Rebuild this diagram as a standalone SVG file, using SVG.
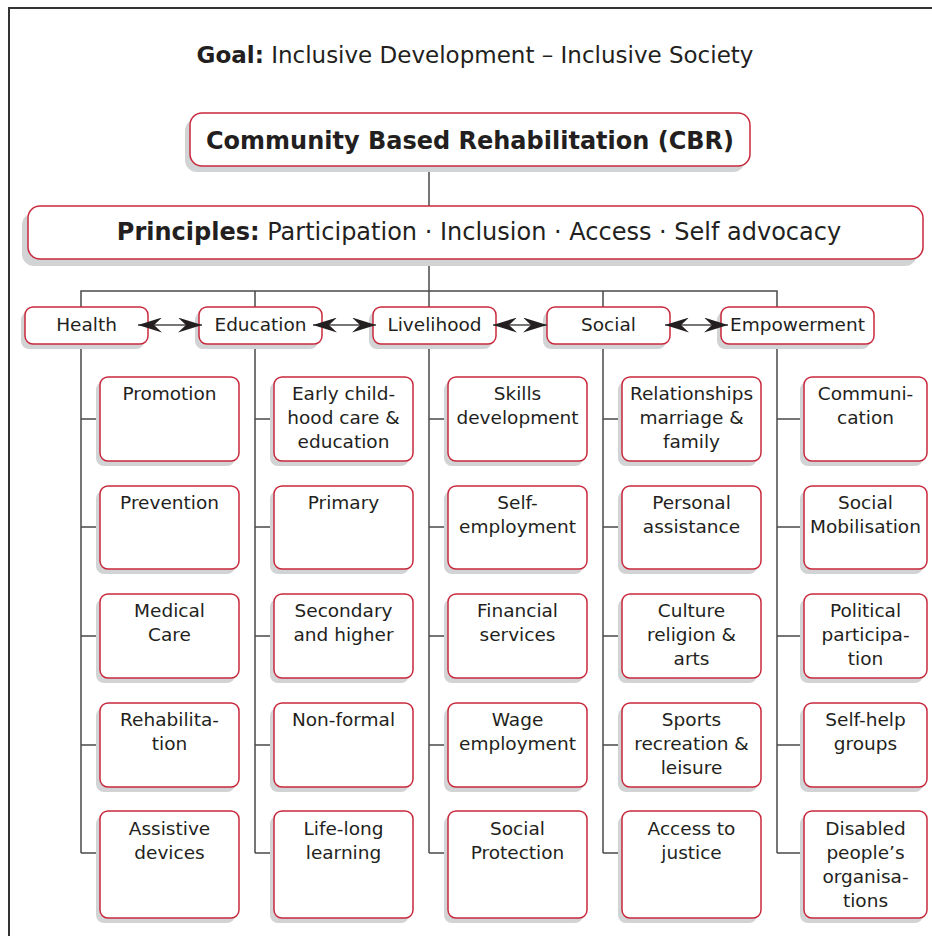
<svg xmlns="http://www.w3.org/2000/svg" width="932" height="936" viewBox="0 0 932 936">
<defs>
<style>
.frame{stroke:#333;stroke-width:2;fill:none}
.conn{stroke:#4a4a4a;stroke-width:1.5;fill:none}
.box{fill:#fff;stroke:#c8283c;stroke-width:1.5}
.shadow{fill:#d1d3d4}
text{font-family:"DejaVu Sans","Verdana",sans-serif;fill:#231f20}
.t18{font-size:18.5px;text-anchor:middle}
.t24{font-size:24px;text-anchor:middle}
.b{font-weight:bold}
</style>
<marker id="ah" viewBox="0 0 24 15" refX="24" refY="7.5" markerWidth="24" markerHeight="15" markerUnits="userSpaceOnUse" orient="auto-start-reverse">
<path d="M0,0 L24,7.5 L0,15 L8,7.5 z" fill="#231f20"/>
</marker>
</defs>
<rect width="932" height="936" fill="#fff"/>
<path class="frame" d="M9,936 V8 H932"/>

<g id="goal">
<text x="475" y="63" font-size="23" text-anchor="middle"><tspan class="b">Goal:</tspan> Inclusive Development – Inclusive Society</text>
</g>

<g id="connectors">
<path class="conn" d="M429,166 V206 M429,259 V307 M81,307 V291 H777 V307 M255,291 V307 M603,291 V307"/>
<path class="conn" d="M81,344 V853 M81,419 H100 M81,527 H100 M81,636 H100 M81,745 H100 M81,853 H100"/>
<path class="conn" d="M255,344 V853 M255,419 H274 M255,527 H274 M255,636 H274 M255,745 H274 M255,853 H274"/>
<path class="conn" d="M429,344 V853 M429,419 H448 M429,527 H448 M429,636 H448 M429,745 H448 M429,853 H448"/>
<path class="conn" d="M603,344 V853 M603,419 H622 M603,527 H622 M603,636 H622 M603,745 H622 M603,853 H622"/>
<path class="conn" d="M777,344 V853 M777,419 H804 M777,527 H804 M777,636 H804 M777,745 H804 M777,853 H804"/>
</g>

<g id="cbr">
<rect class="shadow" x="185" y="119" width="560" height="53" rx="12"/>
<rect class="box" x="190" y="113" width="560" height="53" rx="12"/>
<text class="t24 b" x="470" y="149">Community Based Rehabilitation (CBR)</text>
</g>
<g id="principles">
<rect class="shadow" x="22" y="213" width="895" height="53" rx="12"/>
<rect class="box" x="28" y="206" width="895" height="53" rx="12"/>
<text class="t24" x="479" y="240"><tspan class="b">Principles:</tspan> Participation · Inclusion · Access · Self advocacy</text>
</g>

<g id="health"><rect class="shadow" x="21" y="312" width="123" height="37" rx="8"/><rect class="box" x="25" y="307" width="123" height="37" rx="8"/><text class="t18" x="86.5" y="331">Health</text></g>
<g id="education"><rect class="shadow" x="195" y="312" width="123" height="37" rx="8"/><rect class="box" x="199" y="307" width="123" height="37" rx="8"/><text class="t18" x="260.5" y="331">Education</text></g>
<g id="livelihood"><rect class="shadow" x="369" y="312" width="123" height="37" rx="8"/><rect class="box" x="373" y="307" width="123" height="37" rx="8"/><text class="t18" x="434.5" y="331">Livelihood</text></g>
<g id="social"><rect class="shadow" x="543" y="312" width="123" height="37" rx="8"/><rect class="box" x="547" y="307" width="123" height="37" rx="8"/><text class="t18" x="608.5" y="331">Social</text></g>
<g id="empowerment"><rect class="shadow" x="717" y="312" width="153" height="37" rx="8"/><rect class="box" x="721" y="307" width="153" height="37" rx="8"/><text class="t18" x="797.5" y="331">Empowerment</text></g>

<g id="arrows">
<line class="conn" x1="138" y1="325" x2="202" y2="325" marker-start="url(#ah)" marker-end="url(#ah)" stroke-width="1"/>
<line class="conn" x1="313" y1="325" x2="376" y2="325" marker-start="url(#ah)" marker-end="url(#ah)" stroke-width="1"/>
<line class="conn" x1="493" y1="325" x2="547" y2="325" marker-start="url(#ah)" marker-end="url(#ah)" stroke-width="1"/>
<line class="conn" x1="665" y1="325" x2="728" y2="325" marker-start="url(#ah)" marker-end="url(#ah)" stroke-width="1"/>
</g>

<!-- Health column -->
<g id="promotion"><rect class="shadow" x="96" y="382" width="139" height="84" rx="8"/><rect class="box" x="100" y="377" width="139" height="84" rx="8"/><text class="t18" x="169.5" y="400">Promotion</text></g>
<g id="prevention"><rect class="shadow" x="96" y="491" width="139" height="83" rx="8"/><rect class="box" x="100" y="486" width="139" height="83" rx="8"/><text class="t18" x="169.5" y="509">Prevention</text></g>
<g id="medical-care"><rect class="shadow" x="96" y="599" width="139" height="84" rx="8"/><rect class="box" x="100" y="594" width="139" height="84" rx="8"/><text class="t18" x="169.5" y="617">Medical<tspan x="169.5" dy="24">Care</tspan></text></g>
<g id="rehabilitation"><rect class="shadow" x="96" y="708" width="139" height="84" rx="8"/><rect class="box" x="100" y="703" width="139" height="84" rx="8"/><text class="t18" x="169.5" y="726">Rehabilita-<tspan x="169.5" dy="24">tion</tspan></text></g>
<g id="assistive-devices"><rect class="shadow" x="96" y="816" width="139" height="107" rx="8"/><rect class="box" x="100" y="811" width="139" height="107" rx="8"/><text class="t18" x="169.5" y="835">Assistive<tspan x="169.5" dy="24">devices</tspan></text></g>

<!-- Education column -->
<g id="early-childhood"><rect class="shadow" x="270" y="382" width="139" height="84" rx="8"/><rect class="box" x="274" y="377" width="139" height="84" rx="8"/><text class="t18" x="343.5" y="400">Early child-<tspan x="343.5" dy="24">hood care &amp;</tspan><tspan x="343.5" dy="24">education</tspan></text></g>
<g id="primary"><rect class="shadow" x="270" y="491" width="139" height="83" rx="8"/><rect class="box" x="274" y="486" width="139" height="83" rx="8"/><text class="t18" x="343.5" y="509">Primary</text></g>
<g id="secondary"><rect class="shadow" x="270" y="599" width="139" height="84" rx="8"/><rect class="box" x="274" y="594" width="139" height="84" rx="8"/><text class="t18" x="343.5" y="617">Secondary<tspan x="343.5" dy="24">and higher</tspan></text></g>
<g id="non-formal"><rect class="shadow" x="270" y="708" width="139" height="84" rx="8"/><rect class="box" x="274" y="703" width="139" height="84" rx="8"/><text class="t18" x="343.5" y="726">Non-formal</text></g>
<g id="life-long"><rect class="shadow" x="270" y="816" width="139" height="107" rx="8"/><rect class="box" x="274" y="811" width="139" height="107" rx="8"/><text class="t18" x="343.5" y="835">Life-long<tspan x="343.5" dy="24">learning</tspan></text></g>

<!-- Livelihood column -->
<g id="skills"><rect class="shadow" x="444" y="382" width="139" height="84" rx="8"/><rect class="box" x="448" y="377" width="139" height="84" rx="8"/><text class="t18" x="517.5" y="400">Skills<tspan x="517.5" dy="24">development</tspan></text></g>
<g id="self-employment"><rect class="shadow" x="444" y="491" width="139" height="83" rx="8"/><rect class="box" x="448" y="486" width="139" height="83" rx="8"/><text class="t18" x="517.5" y="509">Self-<tspan x="517.5" dy="24">employment</tspan></text></g>
<g id="financial"><rect class="shadow" x="444" y="599" width="139" height="84" rx="8"/><rect class="box" x="448" y="594" width="139" height="84" rx="8"/><text class="t18" x="517.5" y="617">Financial<tspan x="517.5" dy="24">services</tspan></text></g>
<g id="wage"><rect class="shadow" x="444" y="708" width="139" height="84" rx="8"/><rect class="box" x="448" y="703" width="139" height="84" rx="8"/><text class="t18" x="517.5" y="726">Wage<tspan x="517.5" dy="24">employment</tspan></text></g>
<g id="social-protection"><rect class="shadow" x="444" y="816" width="139" height="107" rx="8"/><rect class="box" x="448" y="811" width="139" height="107" rx="8"/><text class="t18" x="517.5" y="835">Social<tspan x="517.5" dy="24">Protection</tspan></text></g>

<!-- Social column -->
<g id="relationships"><rect class="shadow" x="618" y="382" width="139" height="84" rx="8"/><rect class="box" x="622" y="377" width="139" height="84" rx="8"/><text class="t18" x="691.5" y="400">Relationships<tspan x="691.5" dy="24">marriage &amp;</tspan><tspan x="691.5" dy="24">family</tspan></text></g>
<g id="personal"><rect class="shadow" x="618" y="491" width="139" height="83" rx="8"/><rect class="box" x="622" y="486" width="139" height="83" rx="8"/><text class="t18" x="691.5" y="509">Personal<tspan x="691.5" dy="24">assistance</tspan></text></g>
<g id="culture"><rect class="shadow" x="618" y="599" width="139" height="84" rx="8"/><rect class="box" x="622" y="594" width="139" height="84" rx="8"/><text class="t18" x="691.5" y="617">Culture<tspan x="691.5" dy="24">religion &amp;</tspan><tspan x="691.5" dy="24">arts</tspan></text></g>
<g id="sports"><rect class="shadow" x="618" y="708" width="139" height="84" rx="8"/><rect class="box" x="622" y="703" width="139" height="84" rx="8"/><text class="t18" x="691.5" y="726">Sports<tspan x="691.5" dy="24">recreation &amp;</tspan><tspan x="691.5" dy="24">leisure</tspan></text></g>
<g id="justice"><rect class="shadow" x="618" y="816" width="139" height="107" rx="8"/><rect class="box" x="622" y="811" width="139" height="107" rx="8"/><text class="t18" x="691.5" y="835">Access to<tspan x="691.5" dy="24">justice</tspan></text></g>

<!-- Empowerment column -->
<g id="communication"><rect class="shadow" x="800" y="382" width="123" height="84" rx="8"/><rect class="box" x="804" y="377" width="123" height="84" rx="8"/><text class="t18" x="865.5" y="400">Communi-<tspan x="865.5" dy="24">cation</tspan></text></g>
<g id="mobilisation"><rect class="shadow" x="800" y="491" width="123" height="83" rx="8"/><rect class="box" x="804" y="486" width="123" height="83" rx="8"/><text class="t18" x="865.5" y="509">Social<tspan x="865.5" dy="24">Mobilisation</tspan></text></g>
<g id="political"><rect class="shadow" x="800" y="599" width="123" height="84" rx="8"/><rect class="box" x="804" y="594" width="123" height="84" rx="8"/><text class="t18" x="865.5" y="617">Political<tspan x="865.5" dy="24">participa-</tspan><tspan x="865.5" dy="24">tion</tspan></text></g>
<g id="self-help"><rect class="shadow" x="800" y="708" width="123" height="84" rx="8"/><rect class="box" x="804" y="703" width="123" height="84" rx="8"/><text class="t18" x="865.5" y="726">Self-help<tspan x="865.5" dy="24">groups</tspan></text></g>
<g id="dpo"><rect class="shadow" x="800" y="816" width="123" height="107" rx="8"/><rect class="box" x="804" y="811" width="123" height="107" rx="8"/><text class="t18" x="865.5" y="835">Disabled<tspan x="865.5" dy="24">people’s</tspan><tspan x="865.5" dy="24">organisa-</tspan><tspan x="865.5" dy="24">tions</tspan></text></g>
</svg>
